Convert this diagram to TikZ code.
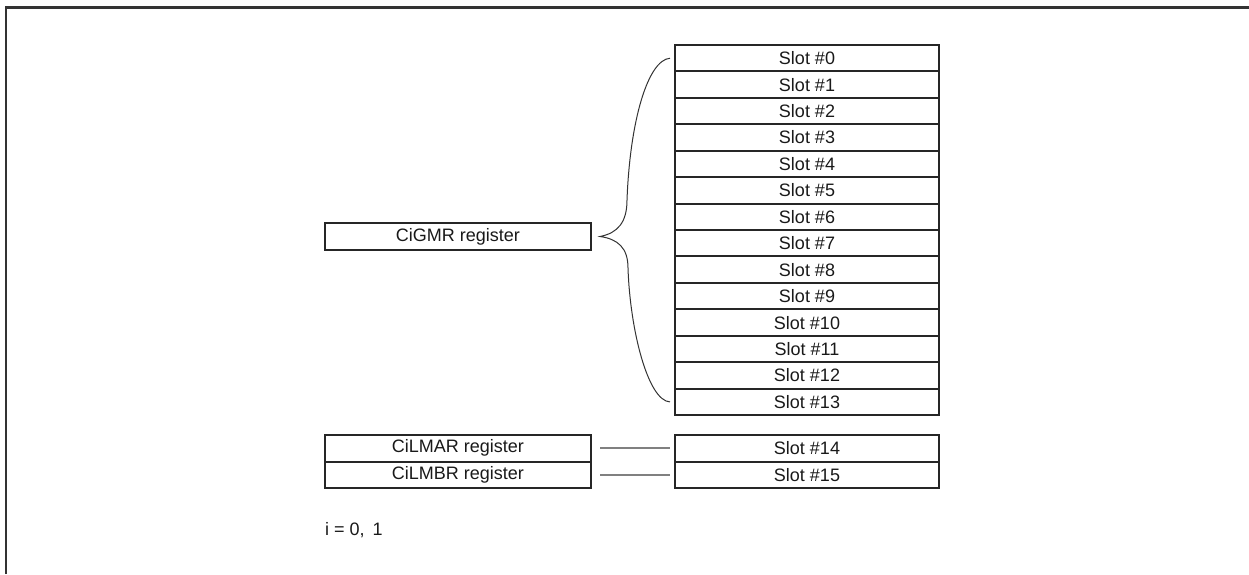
\documentclass[tikz,border=0pt]{standalone}
\usepackage{fontspec}
\setmainfont{Liberation Sans}
\usetikzlibrary{positioning}

\begin{document}
\begin{tikzpicture}[
    x=1pt, y=-1pt,
    slot/.style={rectangle, draw=black!85, line width=2pt, minimum width=264pt, minimum height=26.43pt, inner sep=0pt, outer sep=0pt, text=black!90, font=\fontsize{18}{20}\selectfont},
    reg/.style={slot, minimum width=266pt, minimum height=26.8pt},
    link/.style={draw=black!50, line width=2pt},
    brace/.style={draw=black!80, line width=1pt}
]
    \useasboundingbox (0,0) rectangle (1249,574);

    % Frame
    \draw[black!80, line width=2.5pt] (6,574) -- (6,7.5) -- (1249,7.5);

    % Slots of the group
    \node[slot] (s0) at (807,58.2) {Slot \#0};
    \node[slot] (s1) at (807,84.6) {Slot \#1};
    \node[slot] (s2) at (807,111.1) {Slot \#2};
    \node[slot] (s3) at (807,137.5) {Slot \#3};
    \node[slot] (s4) at (807,163.9) {Slot \#4};
    \node[slot] (s5) at (807,190.4) {Slot \#5};
    \node[slot] (s6) at (807,216.8) {Slot \#6};
    \node[slot] (s7) at (807,243.2) {Slot \#7};
    \node[slot] (s8) at (807,269.7) {Slot \#8};
    \node[slot] (s9) at (807,296.1) {Slot \#9};
    \node[slot] (s10) at (807,322.6) {Slot \#10};
    \node[slot] (s11) at (807,349.0) {Slot \#11};
    \node[slot] (s12) at (807,375.4) {Slot \#12};
    \node[slot] (s13) at (807,401.9) {Slot \#13};

    % Slots for the local masks
    \node[slot, minimum height=26.6pt] (s14) at (807,448.3) {Slot \#14};
    \node[slot, minimum height=26.6pt] (s15) at (807,474.9) {Slot \#15};

    % Registers
    \node[reg] (gmr) at (458,236.5) {CiGMR register};
    \node[reg] (lmar) at (458,448.3) {CiLMAR register};
    \node[reg] (lmbr) at (458,474.9) {CiLMBR register};

    % Brace from CiGMR to slots 0-13
    \coordinate (btop) at ([xshift=-5pt]s0.west);
    \coordinate (btip) at ([xshift=9pt]gmr.east);
    \coordinate (bbot) at ([xshift=-5pt]s13.west);
    \draw[brace] (btop) .. controls (648,60) and (630,120) .. (627,200)
        .. controls (627,222) and (618,233) .. (btip)
        .. controls (618,239) and (628,248) .. (628,268)
        .. controls (630,330) and (648,401) .. (bbot);

    % Local mask links
    \draw[link, shorten <=9pt, shorten >=5pt] (lmar) -- (s14);
    \draw[link, shorten <=9pt, shorten >=5pt] (lmbr) -- (s15);

    % Note
    \node[anchor=west, inner sep=0pt, text=black!90, font=\fontsize{18}{20}\selectfont] (note) at (325,530) {i = 0,\, 1};
\end{tikzpicture}
\end{document}
